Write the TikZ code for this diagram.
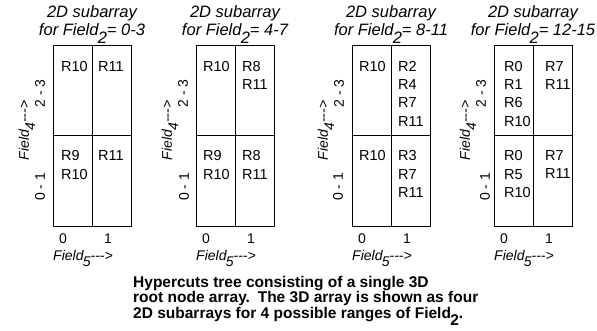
\documentclass[tikz,border=0pt]{standalone}
\usepackage{fontspec}
\setmainfont{Liberation Sans}
\usepackage{graphicx}
\usetikzlibrary{positioning}
\newcommand{\lowsub}[1]{\kern-0.05em\raisebox{-0.45em}{#1}}

\begin{document}
\begin{tikzpicture}[x=1pt, y=-1pt,
  cellb/.style={draw, line width=0.9pt, minimum width=39pt, minimum height=90.5pt,
                inner sep=0pt, outer sep=0pt, anchor=north west},
  rtxt/.style={anchor=north west, inner sep=0pt, align=left,
               font=\fontsize{14.5}{18.3}\selectfont},
  ttl/.style={anchor=north, inner sep=0pt, align=center,
              font=\fontsize{16.5}{18.5}\selectfont\itshape},
  axl/.style={inner sep=0pt, font=\fontsize{14}{14}\selectfont},
  fld/.style={inner sep=0pt, font=\fontsize{14}{14}\selectfont\itshape},
  capt/.style={anchor=north west, inner sep=0pt, align=left,
               font=\fontsize{15.5}{13}\selectfont\bfseries},
]
\useasboundingbox (0,0) rectangle (597,331);

% Subarray 1: Field2 = 0-3
\node[cellb] (a1tl) at (53,45) {};
\node[cellb] (a1tr) at (a1tl.north east) {};
\node[cellb] (a1bl) at (a1tl.south west) {};
\node[cellb] (a1br) at (a1tl.south east) {};
\node[rtxt] (r1tl) at ([xshift=8pt, yshift=-16pt]a1tl.north west) {R10};
\node[rtxt] (r1tr) at ([xshift=6pt, yshift=-16pt]a1tr.north west) {R11};
\node[rtxt] (r1bl) at ([xshift=8pt, yshift=-15pt]a1bl.north west) {R9\\R10};
\node[rtxt] (r1br) at ([xshift=6pt, yshift=-15pt]a1br.north west) {R11};
\node[ttl] (ttl1) at ([yshift=40pt]a1tl.north east) {2D subarray\\for Field\lowsub{2}= 0-3};
\node[axl, rotate=90] (y1hi) at ([xshift=-13pt, yshift=-3pt]a1tl.west) {2 - 3};
\node[axl, rotate=90] (y1lo) at ([xshift=-13pt, yshift=-6pt]a1bl.west) {0 - 1};
\node[fld, rotate=90] (f1v) at ([xshift=-26pt, yshift=5pt]a1tl.south west) {Field\lowsub{4}-{}-{}->};
\node[axl] (x1a) at ([xshift=-9.5pt, yshift=-13pt]a1bl.south) {0};
\node[axl] (x1b) at ([xshift=-3.5pt, yshift=-13pt]a1br.south) {1};
\node[fld, anchor=north west] (f1h) at ([yshift=-24pt]a1bl.south west) {Field\lowsub{5}-{}-{}->};

% Subarray 2: Field2 = 4-7
\node[cellb] (a2tl) at (196,45) {};
\node[cellb] (a2tr) at (a2tl.north east) {};
\node[cellb] (a2bl) at (a2tl.south west) {};
\node[cellb] (a2br) at (a2tl.south east) {};
\node[rtxt] (r2tl) at ([xshift=7pt, yshift=-16pt]a2tl.north west) {R10};
\node[rtxt] (r2tr) at ([xshift=7pt, yshift=-16pt]a2tr.north west) {R8\\R11};
\node[rtxt] (r2bl) at ([xshift=7pt, yshift=-15pt]a2bl.north west) {R9\\R10};
\node[rtxt] (r2br) at ([xshift=7pt, yshift=-15pt]a2br.north west) {R8\\R11};
\node[ttl] (ttl2) at ([yshift=40pt]a2tl.north east) {2D subarray\\for Field\lowsub{2}= 4-7};
\node[axl, rotate=90] (y2hi) at ([xshift=-13pt, yshift=-3pt]a2tl.west) {2 - 3};
\node[axl, rotate=90] (y2lo) at ([xshift=-12pt, yshift=-6pt]a2bl.west) {0 - 1};
\node[fld, rotate=90] (f2v) at ([xshift=-26pt, yshift=5pt]a2tl.south west) {Field\lowsub{4}-{}-{}->};
\node[axl] (x2a) at ([xshift=-9.5pt, yshift=-13pt]a2bl.south) {0};
\node[axl] (x2b) at ([xshift=-3.5pt, yshift=-13pt]a2br.south) {1};
\node[fld, anchor=north west] (f2h) at ([yshift=-24pt]a2bl.south west) {Field\lowsub{5}-{}-{}->};

% Subarray 3: Field2 = 8-11
\node[cellb] (a3tl) at (352,45) {};
\node[cellb] (a3tr) at (a3tl.north east) {};
\node[cellb] (a3bl) at (a3tl.south west) {};
\node[cellb] (a3br) at (a3tl.south east) {};
\node[rtxt] (r3tl) at ([xshift=7pt, yshift=-16pt]a3tl.north west) {R10};
\node[rtxt] (r3tr) at ([xshift=7pt, yshift=-16pt]a3tr.north west) {R2\\R4\\R7\\R11};
\node[rtxt] (r3bl) at ([xshift=7pt, yshift=-15pt]a3bl.north west) {R10};
\node[rtxt] (r3br) at ([xshift=7pt, yshift=-15pt]a3br.north west) {R3\\R7\\R11};
\node[ttl] (ttl3) at ([yshift=40pt]a3tl.north east) {2D subarray\\for Field\lowsub{2}= 8-11};
\node[axl, rotate=90] (y3hi) at ([xshift=-13pt, yshift=-3pt]a3tl.west) {2 - 3};
\node[axl, rotate=90] (y3lo) at ([xshift=-14pt, yshift=-6pt]a3bl.west) {0 - 1};
\node[fld, rotate=90] (f3v) at ([xshift=-26pt, yshift=5pt]a3tl.south west) {Field\lowsub{4}-{}-{}->};
\node[axl] (x3a) at ([xshift=-9.5pt, yshift=-13pt]a3bl.south) {0};
\node[axl] (x3b) at ([xshift=-3.5pt, yshift=-13pt]a3br.south) {1};
\node[fld, anchor=north west] (f3h) at ([yshift=-24pt]a3bl.south west) {Field\lowsub{5}-{}-{}->};

% Subarray 4: Field2 = 12-15
\node[cellb] (a4tl) at (494,45) {};
\node[cellb] (a4tr) at (a4tl.north east) {};
\node[cellb] (a4bl) at (a4tl.south west) {};
\node[cellb] (a4br) at (a4tl.south east) {};
\node[rtxt] (r4tl) at ([xshift=10pt, yshift=-16pt]a4tl.north west) {R0\\R1\\R6\\R10};
\node[rtxt] (r4tr) at ([xshift=12pt, yshift=-16pt]a4tr.north west) {R7\\R11};
\node[rtxt] (r4bl) at ([xshift=10pt, yshift=-15pt]a4bl.north west) {R0\\R5\\R10};
\node[rtxt] (r4br) at ([xshift=12pt, yshift=-15pt]a4br.north west) {R7\\R11};
\node[ttl] (ttl4) at ([yshift=40pt]a4tl.north east) {2D subarray\\for Field\lowsub{2}= 12-15};
\node[axl, rotate=90] (y4hi) at ([xshift=-13pt, yshift=-3pt]a4tl.west) {2 - 3};
\node[axl, rotate=90] (y4lo) at ([xshift=-9pt, yshift=-6pt]a4bl.west) {0 - 1};
\node[fld, rotate=90] (f4v) at ([xshift=-26pt, yshift=5pt]a4tl.south west) {Field\lowsub{4}-{}-{}->};
\node[axl] (x4a) at ([xshift=-9.5pt, yshift=-13pt]a4bl.south) {0};
\node[axl] (x4b) at ([xshift=-3.5pt, yshift=-13pt]a4br.south) {1};
\node[fld, anchor=north west] (f4h) at ([yshift=-24pt]a4bl.south west) {Field\lowsub{5}-{}-{}->};

% Caption
\node[capt] (cap) at (133,276)
  {Hypercuts tree consisting of a single 3D\\
   root node array.\enspace The 3D array is shown as four\\
   2D subarrays for 4 possible ranges of Field\lowsub{2}.};
\end{tikzpicture}
\end{document}
